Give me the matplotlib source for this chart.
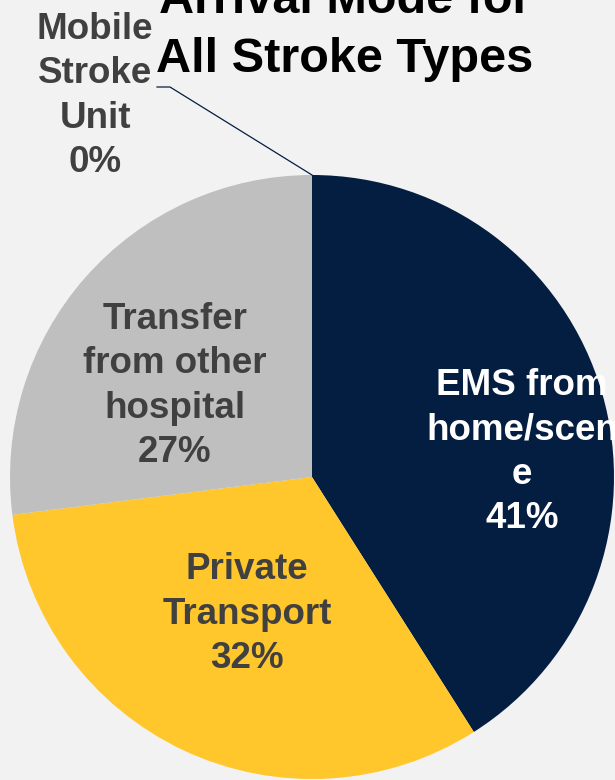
import numpy as np
import matplotlib.pyplot as plt

plt.rcParams['font.family'] = ['Liberation Sans', 'DejaVu Sans']

categories = ['EMS from\nhome/scen\ne', 'Private\nTransport', 'Transfer\nfrom other\nhospital', 'Mobile\nStroke\nUnit']
shares = [41, 32, 27, 0]
colors = ['#041e42', '#ffc72c', '#bfbfbf', '#2f5597']
text_colors = ['white', '#404040', '#404040', '#404040']
# where each label sits (pixels from the top-left corner)
label_pos = [(522, 452), (247, 614), (175, 386), (95, 96)]

W, H = 615, 780
cx, cy, r = 312, H - 477, 302

fig = plt.figure(figsize=(W / 100, H / 100), dpi=100, facecolor='#f2f2f2')
ax = fig.add_axes([0, 0, 1, 1])
ax.set_facecolor('#f2f2f2')

ax.pie(shares, colors=colors, startangle=90, counterclock=False,
       center=(cx, cy), radius=r, wedgeprops=dict(linewidth=0))

for name, val, (x, y), tc in zip(categories, shares, label_pos, text_colors):
    ax.text(x, H - y, '{}\n{}%'.format(name, val), ha='center', va='center',
            multialignment='center', fontsize=26.5, fontweight='bold',
            color=tc, linespacing=1.35)

# leader line from the 0% label to its (empty) wedge at the top of the pie
lx, ly = 157, H - 87
ax.plot([lx, lx + 13, cx], [ly, ly, cy + r], color='#041e42', lw=0.9)

ax.text(345, H - 30, 'Arrival Mode for\nAll Stroke Types', ha='center', va='center',
        fontsize=35, fontweight='bold', color='black', linespacing=1.41)

ax.set_xlim(0, W)
ax.set_ylim(0, H)
ax.set_aspect('equal')
ax.axis('off')

fig.savefig('out.png', dpi=100, facecolor=fig.get_facecolor())
